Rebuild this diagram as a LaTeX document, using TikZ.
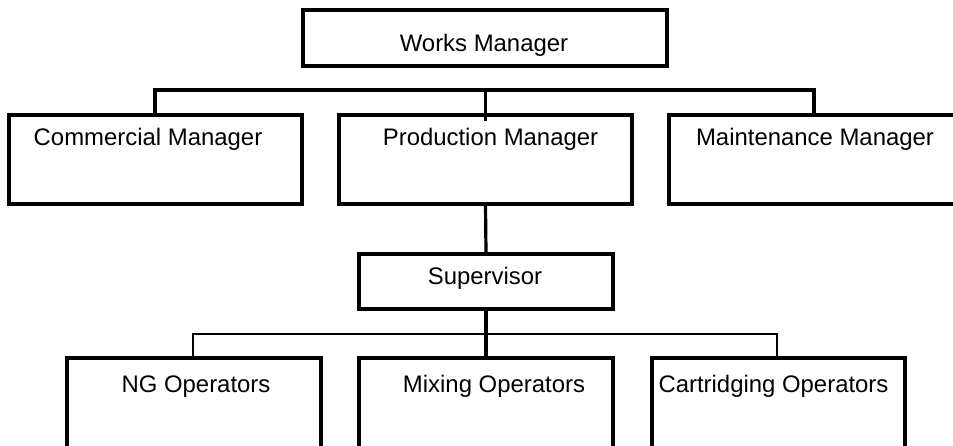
\documentclass[tikz,border=0pt]{standalone}
\usepackage{fontspec}
\setmainfont{Liberation Sans}
\begin{document}
\begin{tikzpicture}[x=1bp,y=-1bp,
  box/.style={draw,line width=3.5bp,inner sep=0pt,rectangle},
  lbl/.style={anchor=base,inner sep=0pt,font=\fontsize{24}{28}\selectfont},
  conn/.style={line width=3.2bp},
  connb/.style={line width=2.6bp}]
\useasboundingbox (0,0) rectangle (953,446);
\clip (0,0) rectangle (953,446);
% boxes
\node[box,minimum width=364bp,minimum height=56bp] (wm) at (485,38) {};
\node[box,minimum width=293bp,minimum height=89bp] (cm) at (155.5,159.5) {};
\node[box,minimum width=293bp,minimum height=89bp] (pm) at (485.5,159.5) {};
\node[box,minimum width=321bp,minimum height=89bp] (mm) at (829.5,159.5) {};
\node[box,minimum width=254bp,minimum height=55bp] (sup) at (486,281.5) {};
\node[box,minimum width=254bp,minimum height=122bp] (ng) at (194,419) {};
\node[box,minimum width=254bp,minimum height=122bp] (mix) at (486,419) {};
\node[box,minimum width=253bp,minimum height=122bp] (cart) at (778.5,419) {};
% labels
\node[lbl] (twm) at (484,52) {Works Manager};
\node[lbl] (tcm) at (148,146) {Commercial Manager};
\node[lbl] (tpm) at (490.5,146) {Production Manager};
\node[lbl] (tmm) at (815,146) {Maintenance Manager};
\node[lbl] (tsup) at (485,285) {Supervisor};
\node[lbl] (tng) at (196,392) {NG Operators};
\node[lbl] (tmix) at (494,392) {Mixing Operators};
\node[lbl] (tcart) at (773.5,392) {Cartridging Operators};
% connectors
\coordinate (b1) at (155,90);
\coordinate (b3) at (814,90);
\draw[conn] (b1 |- cm.north) -- (b1) -- (b3) -- (b3 |- mm.north);
\draw[conn] (pm.north |- b1) -- ([yshift=-8bp]pm.north);
\draw[conn] (pm.south) -- (sup.north);
\coordinate (c1) at (193,334);
\coordinate (c3) at (777,334);
\draw[connb] (c1 |- ng.north) -- (c1) -- (c3) -- (c3 |- cart.north);
\draw[conn] (sup.south) -- (mix.north);
\end{tikzpicture}
\end{document}
